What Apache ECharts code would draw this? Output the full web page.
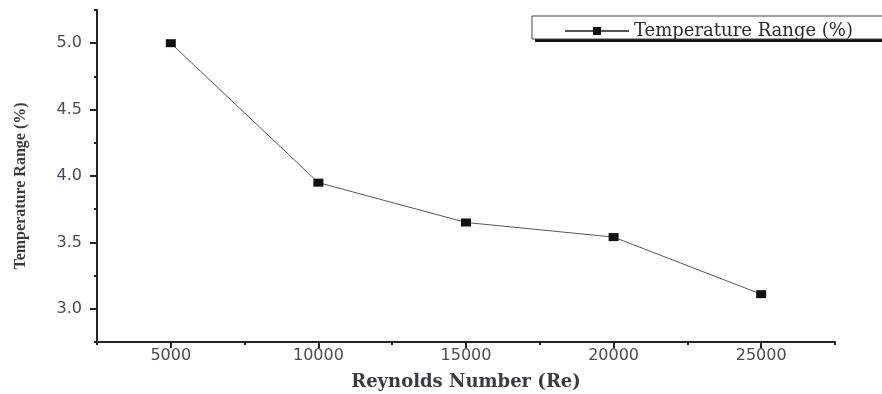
<!DOCTYPE html>
<html>
<head>
<meta charset="utf-8">
<script src="https://cdn.jsdelivr.net/npm/echarts@6/dist/echarts.min.js"></script>
<style>html,body{margin:0;padding:0;background:#fff}#c{width:882px;height:394px}</style>
</head>
<body>
<div id="c"></div>
<script>
var reynolds = [5000, 10000, 15000, 20000, 25000];
var tempRange = [5.0, 3.95, 3.65, 3.54, 3.11];
var yMajor = [3.0, 3.5, 4.0, 4.5, 5.0];
var yMinor = [2.75, 3.25, 3.75, 4.25, 4.75, 5.25];
var xMajor = [5000, 10000, 15000, 20000, 25000];
var xMinor = [2500, 7500, 12500, 17500, 22500, 27500];
var seriesName = 'Temperature Range (%)';
var xTitle = 'Reynolds Number (Re)';
var yTitle = 'Temperature Range (%)';

var chart = echarts.init(document.getElementById('c'));
var serif = '"Liberation Serif", "Times New Roman", serif';
var wideSerif = '"DejaVu Serif", serif';
var sans = '"DejaVu Sans", sans-serif';
var axisCol = '#222';
var labelCol = '#4a4a58';
var grid = {left: 97, right: 47, top: 10, bottom: 52, containLabel: false, outerBoundsMode: 'none'};
chart.setOption({
  animation: false,
  grid: [grid, grid],
  graphic: [{
    type: 'rect', shape: {x: 535, y: 21, width: 360, height: 21},
    style: {fill: '#111'}
  }, {
    type: 'rect', shape: {x: 532, y: 16, width: 360, height: 23},
    style: {fill: '#fff', stroke: '#444', lineWidth: 1}
  }, {
    type: 'text', x: 21, y: 186, rotation: Math.PI / 2,
    style: {text: yTitle, font: 'bold 16px ' + serif, fill: '#3a3a40',
      align: 'center', verticalAlign: 'middle'}
  }],
  legend: {
    left: 559, top: 17, itemWidth: 64, itemHeight: 10, itemGap: 0,
    textStyle: {fontFamily: wideSerif, fontSize: 18, color: '#2a2a30'},
    data: [{name: seriesName}]
  },
  xAxis: [{
    type: 'value', gridIndex: 0, min: 2500, max: 27500,
    name: xTitle, nameLocation: 'middle', nameGap: 31,
    nameTextStyle: {fontFamily: wideSerif, fontSize: 18, fontWeight: 'bold', color: '#3a3a40'},
    axisLine: {show: true, onZero: false, lineStyle: {color: axisCol, width: 2}},
    axisTick: {show: true, inside: false, length: 6, customValues: xMajor, lineStyle: {color: axisCol, width: 2}},
    axisLabel: {customValues: xMajor, fontFamily: sans, fontSize: 16, color: labelCol, margin: 6,
      formatter: function (v) { return String(v); }},
    splitLine: {show: false}
  }, {
    type: 'value', gridIndex: 1, min: 2500, max: 27500,
    axisLine: {show: false},
    axisTick: {show: true, length: 3, customValues: xMinor, lineStyle: {color: axisCol, width: 2}},
    axisLabel: {show: false},
    splitLine: {show: false}
  }],
  yAxis: [{
    type: 'value', gridIndex: 0, min: 2.75, max: 5.25,
    axisLine: {show: true, onZero: false, lineStyle: {color: axisCol, width: 2}},
    axisTick: {show: true, inside: false, length: 7, customValues: yMajor, lineStyle: {color: axisCol, width: 2}},
    axisLabel: {customValues: yMajor, fontFamily: sans, fontSize: 16, color: labelCol, margin: 15,
      formatter: function (v) { return v.toFixed(1); }},
    splitLine: {show: false}
  }, {
    type: 'value', gridIndex: 1, min: 2.75, max: 5.25,
    axisLine: {show: false},
    axisTick: {show: true, length: 3, customValues: yMinor, lineStyle: {color: axisCol, width: 2}},
    axisLabel: {show: false},
    splitLine: {show: false}
  }],
  series: [{
    name: seriesName, type: 'line', xAxisIndex: 0, yAxisIndex: 0,
    data: reynolds.map(function (x, i) { return [x, tempRange[i]]; }),
    symbol: 'rect', symbolSize: [10, 8],
    lineStyle: {color: '#555', width: 1},
    itemStyle: {color: '#111'}
  }]
});
</script>
</body>
</html>
